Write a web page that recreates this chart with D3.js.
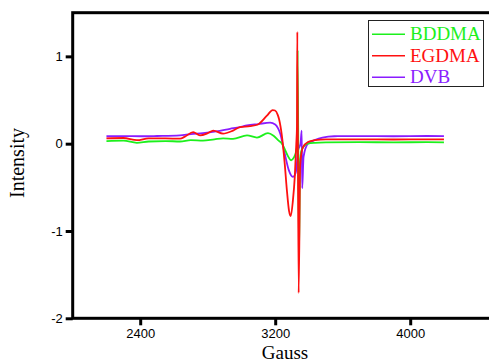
<!DOCTYPE html>
<html><head><meta charset="utf-8">
<script src="https://cdn.jsdelivr.net/npm/d3@7"></script>
<style>html,body{margin:0;padding:0;background:#fff;overflow:hidden}</style>
</head><body><svg id="c" width="489" height="363"></svg>
<script>
// ---- data ----
const seriesNames = ["BDDMA", "EGDMA", "DVB"];
const seriesColors = ["#1cf01c", "#ff1010", "#8a1cff"];

const fieldBDDMA = [2200,2300,2380,2450,2550,2636,2700,2772,2840,2891,2950,3033,3092,3157,3190,3217,3240,3256,3275,3295,3310,3325,3330,3333,3341,3347,3355,3375,3394,3434,3500,3700,3900,4100,4200];
const intBDDMA   = [0.03,0.035,0.01,0.025,0.03,0.025,0.04,0.035,0.05,0.06,0.055,0.095,0.07,0.12,0.09,0.04,0.0,-0.06,-0.14,-0.19,-0.16,-0.08,-0.02,1.07,-1.30,-0.25,-0.08,-0.02,0.0,0.01,0.015,0.018,0.015,0.017,0.015];

const fieldEGDMA = [2200,2300,2381,2450,2550,2636,2665,2714,2754,2800,2833,2891,2950,2992,3051,3098,3151,3185,3199,3215,3223,3239,3256,3270,3282,3292,3305,3316,3325,3329,3331,3339,3348,3356,3365,3394,3434,3500,3700,3900,4100,4200];
const intEGDMA   = [0.06,0.065,0.04,0.06,0.06,0.057,0.08,0.133,0.095,0.12,0.15,0.115,0.15,0.19,0.2,0.22,0.32,0.385,0.38,0.33,0.28,0.1,-0.22,-0.55,-0.77,-0.83,-0.65,-0.38,0.0,0.2,1.28,-1.71,-0.25,-0.1,-0.04,0.02,0.04,0.05,0.05,0.048,0.05,0.05];

const fieldDVB = [2200,2300,2400,2500,2636,2700,2772,2850,2932,2990,3033,3100,3170,3200,3217,3229,3256,3280,3305,3316,3325,3335,3350,3357,3360,3368,3394,3434,3480,3550,3700,3900,4100,4200];
const intDVB   = [0.085,0.087,0.085,0.088,0.095,0.11,0.12,0.14,0.17,0.19,0.21,0.225,0.24,0.22,0.175,0.12,-0.11,-0.3,-0.38,-0.36,-0.3,-0.08,0.0,0.15,-0.51,-0.15,0.0,0.04,0.07,0.085,0.087,0.085,0.088,0.087];

const xTicks = [2400, 3200, 4000];
const yTicks = [-2, -1, 0, 1];

// ---- drawing ----
const svg = d3.select("#c");
const L = 72.7, T = 12.7, B = 318.3;
const x = d3.scaleLinear().domain([2000, 4500]).range([L, L + 2500 * 0.16875]);
const y = d3.scaleLinear().domain([-2, 1.5]).range([B, T]);

const data = [
  {name: seriesNames[0], color: seriesColors[0], f: fieldBDDMA, v: intBDDMA},
  {name: seriesNames[1], color: seriesColors[1], f: fieldEGDMA, v: intEGDMA},
  {name: seriesNames[2], color: seriesColors[2], f: fieldDVB, v: intDVB}
];

const line = d3.line().curve(d3.curveMonotoneX).x(d => x(d[0])).y(d => y(d[1]));
// draw order: DVB, BDDMA, EGDMA on top
[2, 0, 1].forEach(i => {
  const s = data[i];
  svg.append("path")
    .attr("d", line(s.f.map((g, k) => [g, s.v[k]])))
    .attr("fill", "none").attr("stroke", s.color)
    .attr("stroke-width", 1.8).attr("stroke-linejoin", "round");
});

// frame
svg.append("rect").attr("x", L).attr("y", T).attr("width", x(4500) - L).attr("height", B - T)
  .attr("fill", "none").attr("stroke", "#000").attr("stroke-width", 3);

// axes
const xAxis = d3.axisBottom(x).tickValues(xTicks).tickSize(7).tickPadding(3).tickFormat(d3.format("d"));
const gx = svg.append("g").attr("transform", `translate(0,${B})`).call(xAxis);
const yAxis = d3.axisLeft(y).tickValues(yTicks).tickSize(7).tickPadding(3).tickFormat(d => String(d));
const gy = svg.append("g").attr("transform", `translate(${L},0)`).call(yAxis);
[gx, gy].forEach(g => {
  g.select(".domain").remove();
  g.selectAll(".tick line").attr("stroke", "#000").attr("stroke-width", 3);
  g.selectAll(".tick text").attr("fill", "#000")
    .style("font-family", "'Liberation Sans', Arial, sans-serif").style("font-size", "13px");
});

// axis titles
svg.append("text").attr("x", 285).attr("y", 359).attr("text-anchor", "middle")
  .style("font-family", "'Liberation Serif', 'Times New Roman', serif").style("font-size", "19px")
  .text("Gauss");
svg.append("text").attr("transform", "translate(24,163) rotate(-90)").attr("text-anchor", "middle")
  .style("font-family", "'Liberation Serif', 'Times New Roman', serif").style("font-size", "20px")
  .text("Intensity");

// legend
const lg = svg.append("g");
lg.append("rect").attr("x", 368.5).attr("y", 20.5).attr("width", 115).attr("height", 66)
  .attr("fill", "#fff").attr("stroke", "#222").attr("stroke-width", 1);
const rowY = [34.3, 55.7, 77.3];
data.forEach((s, i) => {
  lg.append("line").attr("x1", 372).attr("x2", 405).attr("y1", rowY[i]).attr("y2", rowY[i])
    .attr("stroke", s.color).attr("stroke-width", 1.6);
  lg.append("text").attr("x", 410).attr("y", rowY[i] + 6).attr("fill", s.color)
    .style("font-family", "'Liberation Serif', 'Times New Roman', serif").style("font-size", "19px")
    .text(s.name);
});
</script></body></html>
